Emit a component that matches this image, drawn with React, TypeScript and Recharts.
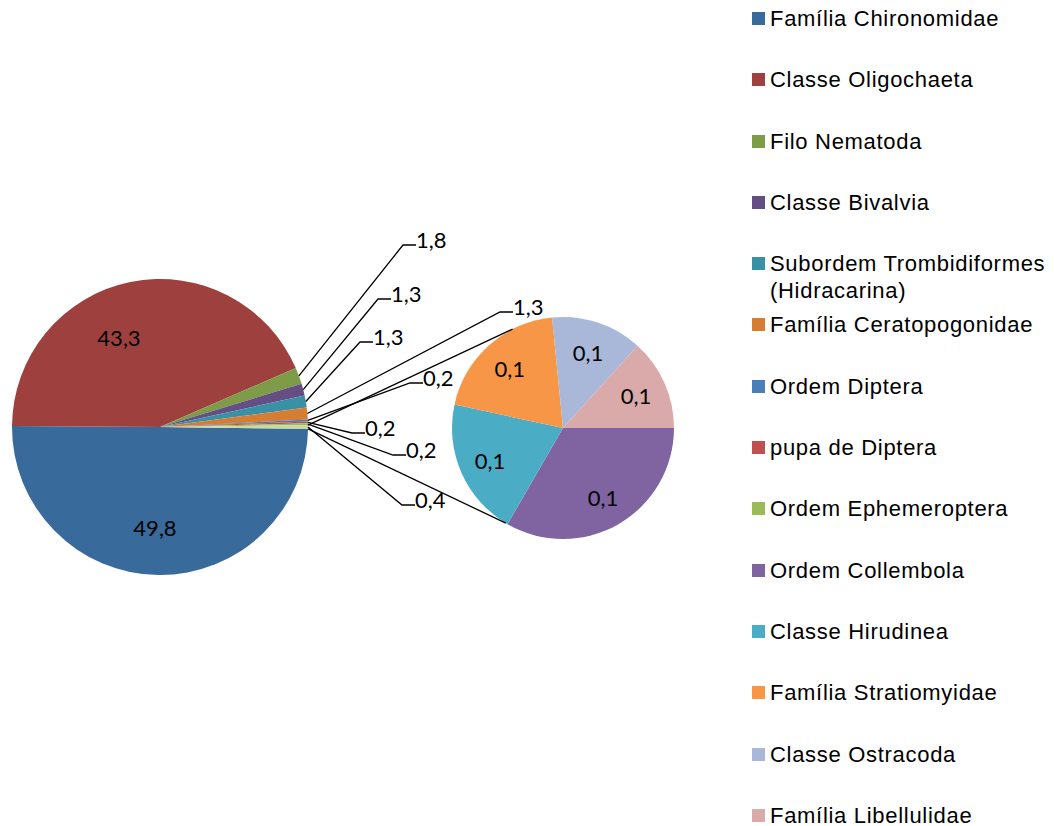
import { PieChart, Pie, Cell, Legend } from 'recharts';

// main pie (percent of individuals)
const mainNames = [
  'Família Chironomidae',
  'Classe Oligochaeta',
  'Filo Nematoda',
  'Classe Bivalvia',
  'Subordem Trombidiformes (Hidracarina)',
  'Família Ceratopogonidae',
  'Ordem Diptera',
  'pupa de Diptera',
  'Ordem Ephemeroptera',
];
const mainValues = [49.8, 43.3, 1.8, 1.3, 1.3, 1.3, 0.2, 0.2, 0.2];

// secondary pie (split from "Outros")
const subNames = [
  'Ordem Collembola',
  'Classe Hirudinea',
  'Família Stratiomyidae',
  'Classe Ostracoda',
  'Família Libellulidae',
];
const subValues = [0.133, 0.08, 0.08, 0.053, 0.053];

const mainColors = ['#386A9C', '#9E413E', '#7E9B48', '#654E84', '#3A91A6', '#D57D33', '#4A7EBB', '#C0504D', '#9BBB59'];
const otherColor = '#C9DA9E';
const subColors = ['#8064A2', '#4BACC6', '#F79646', '#A9B8D8', '#D9AAA9'];

const otherValue = subValues.reduce((a, b) => a + b, 0);
const mainData = [
  ...mainNames.map((name, i) => ({ name, value: mainValues[i], color: mainColors[i] })),
  { name: 'Outros', value: otherValue, color: otherColor },
];
const subData = subNames.map((name, i) => ({ name, value: subValues[i], color: subColors[i] }));
const legendItems = [...mainData.slice(0, -1), ...subData];

const MAIN = { cx: 160, cy: 427, r: 148 };
const SUB = { cx: 563, cy: 428, r: 111 };
const mainTotal = mainData.reduce((a, d) => a + d.value, 0);
const mainStart = -(otherValue / mainTotal) * 180;

const RAD = Math.PI / 180;
const LABEL_FONT = 'Lato, "Open Sans", sans-serif';
const LABEL_SIZE = 22;
const fmt = (v: number) => v.toFixed(1).replace('.', ',');

// hand placed labels, offsets from pie centre (inside text / leader elbow)
const mainLabelPos: Array<{ inside?: boolean; dx: number; dy: number }> = [
  { inside: true, dx: -5, dy: 100 },
  { inside: true, dx: -41, dy: -90 },
  { dx: 243, dy: -182 },
  { dx: 218, dy: -128 },
  { dx: 200, dy: -85 },
  { dx: 340, dy: -115 },
  { dx: 250, dy: -44 },
  { dx: 192, dy: 6 },
  { dx: 233, dy: 28 },
  { dx: 242, dy: 78 },
];

function renderMainLabel(props: any) {
  const { cx, cy, midAngle, outerRadius, index, value } = props;
  const pos = mainLabelPos[index];
  if (!pos) return null;
  const text = fmt(value);
  if (pos.inside) {
    return (
      <text key={`ml-${index}`} x={cx + pos.dx} y={cy + pos.dy} textAnchor="middle" dominantBaseline="central"
        fontFamily={LABEL_FONT} fontSize={LABEL_SIZE} fill="#000">
        {text}
      </text>
    );
  }
  const sx = cx + outerRadius * Math.cos(-midAngle * RAD);
  const sy = cy + outerRadius * Math.sin(-midAngle * RAD);
  const ex = cx + pos.dx;
  const ey = cy + pos.dy;
  let connectors = null;
  if (index === mainData.length - 1) {
    const a1 = mainStart + (otherValue / mainTotal) * 360;
    const a2 = mainStart;
    const p1 = [cx + outerRadius * Math.cos(-a1 * RAD), cy + outerRadius * Math.sin(-a1 * RAD)];
    const p2 = [cx + outerRadius * Math.cos(-a2 * RAD), cy + outerRadius * Math.sin(-a2 * RAD)];
    const q1 = [SUB.cx + SUB.r * Math.cos(-117 * RAD), SUB.cy + SUB.r * Math.sin(-117 * RAD)];
    const q2 = [SUB.cx + SUB.r * Math.cos(121 * RAD), SUB.cy + SUB.r * Math.sin(121 * RAD)];
    connectors = (
      <>
        <line x1={p1[0]} y1={p1[1]} x2={q1[0]} y2={q1[1]} stroke="#000" strokeWidth={1.3} />
        <line x1={p2[0]} y1={p2[1]} x2={q2[0]} y2={q2[1]} stroke="#000" strokeWidth={1.3} />
      </>
    );
  }
  return (
    <g key={`ml-${index}`}>
      {connectors}
      <polyline points={`${sx},${sy} ${ex},${ey} ${ex + 13},${ey}`} fill="none" stroke="#000" strokeWidth={1.3} />
      <text x={ex + 13} y={ey - 6} textAnchor="start" dominantBaseline="central"
        fontFamily={LABEL_FONT} fontSize={LABEL_SIZE} fill="#000">
        {text}
      </text>
    </g>
  );
}

function renderSubLabel(props: any) {
  const { cx, cy, midAngle, outerRadius, index, value } = props;
  const r = outerRadius * 0.72;
  const x = cx + r * Math.cos(-midAngle * RAD);
  const y = cy + r * Math.sin(-midAngle * RAD);
  return (
    <text key={`sl-${index}`} x={x} y={y} textAnchor="middle" dominantBaseline="central"
      fontFamily={LABEL_FONT} fontSize={LABEL_SIZE} fill="#000">
      {fmt(value)}
    </text>
  );
}

function CustomLegend() {
  return (
    <div style={{ fontFamily: '"Liberation Sans", Arial, sans-serif', fontSize: 22, letterSpacing: 0.7, color: '#000' }}>
      {legendItems.map((item) => (
        <div key={item.name} style={{ height: 61.3, display: 'flex', alignItems: 'flex-start' }}>
          <div style={{ width: 13, height: 13, background: item.color, marginTop: 7, marginRight: 5, flexShrink: 0 }} />
          <div style={{ lineHeight: '27px', width: 285 }}>{item.name}</div>
        </div>
      ))}
    </div>
  );
}

export default function App() {
  return (
    <div style={{ position: 'absolute', left: 0, top: 0, width: 1055, height: 826, background: '#fff' }}>
      <PieChart width={1055} height={826} margin={{ top: 0, right: 0, bottom: 0, left: 0 }}>
        <Pie
          data={mainData}
          dataKey="value"
          nameKey="name"
          cx={MAIN.cx}
          cy={MAIN.cy}
          outerRadius={MAIN.r}
          startAngle={mainStart}
          endAngle={mainStart - 360}
          stroke="none"
          label={renderMainLabel}
          labelLine={false}
          isAnimationActive={false}
        >
          {mainData.map((d) => (
            <Cell key={d.name} fill={d.color} />
          ))}
        </Pie>
        <Pie
          data={subData}
          dataKey="value"
          nameKey="name"
          cx={SUB.cx}
          cy={SUB.cy}
          outerRadius={SUB.r}
          startAngle={0}
          endAngle={-360}
          stroke="none"
          label={renderSubLabel}
          labelLine={false}
          isAnimationActive={false}
        >
          {subData.map((d) => (
            <Cell key={d.name} fill={d.color} />
          ))}
        </Pie>
        <Legend
          layout="vertical"
          verticalAlign="top"
          align="right"
          wrapperStyle={{ left: 752, top: 5, width: 303 }}
          content={() => <CustomLegend />}
        />
      </PieChart>
    </div>
  );
}
